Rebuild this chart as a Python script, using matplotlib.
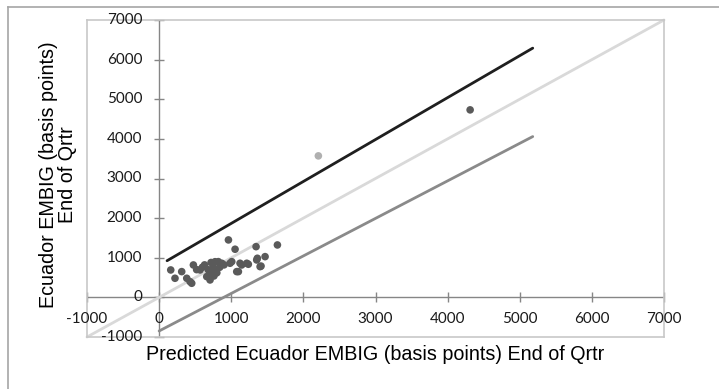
import matplotlib
matplotlib.use("Agg")
import matplotlib.pyplot as plt
from matplotlib.transforms import offset_copy
from matplotlib.lines import Line2D

# ---- data ----
pred_x = [161, 220, 313, 383, 429, 452, 475, 520, 567, 600, 630, 660, 680, 700, 706, 720,
          735, 750, 760, 775, 790, 800, 821, 840, 870, 900, 961, 983, 1007, 1053, 1076,
          1099, 1122, 1145, 1215, 1237, 1344, 1353, 1362, 1400, 1413, 1469, 1640, 4312]
actual_y = [692, 482, 650, 482, 397, 356, 818, 700, 692, 760, 820, 524, 700, 600, 440, 880,
            640, 760, 540, 900, 700, 620, 902, 760, 860, 820, 1450, 861, 902, 1215, 650,
            650, 861, 818, 861, 836, 1280, 944, 987, 776, 790, 1028, 1323, 4732]
outlier_x = [2208]
outlier_y = [3571]

upper_x = [110, 5180]
upper_y = [925, 6290]
lower_x = [0, 5180]
lower_y = [-848, 4058]
diag_x = [-1000, 7000]
diag_y = [-1000, 7000]

x_ticks = [-1000, 0, 1000, 2000, 3000, 4000, 5000, 6000, 7000]
y_ticks = [-1000, 0, 1000, 2000, 3000, 4000, 5000, 6000, 7000]
x_title = "Predicted Ecuador EMBIG (basis points) End of Qrtr"
y_title = "Ecuador EMBIG (basis points)\nEnd of Qrtr"

W, H = 719, 389
fig = plt.figure(figsize=(W / 100, H / 100), dpi=100)

# outer chart frame (top and left visible)
fig.add_artist(Line2D([8 / W, 1], [1 - 7 / H, 1 - 7 / H], color="#a6a6a6", lw=1.2,
                      transform=fig.transFigure))
fig.add_artist(Line2D([8 / W, 8 / W], [0, 1 - 7 / H], color="#a6a6a6", lw=1.2,
                      transform=fig.transFigure))

ax = fig.add_axes([87 / W, (H - 337) / H, 577 / W, 317 / H])
ax.set_xlim(-1000, 7000)
ax.set_ylim(-1000, 7000)
for s in ax.spines.values():
    s.set_color("#c8c8c8")
    s.set_linewidth(1.2)
ax.set_xticks([])
ax.set_yticks([])

axis_col = "#868686"
ax.axhline(0, color=axis_col, lw=1.0, zorder=1)
ax.axvline(0, color=axis_col, lw=1.0, zorder=1)
ax.plot(x_ticks, [0] * len(x_ticks), linestyle="none", marker="|", markersize=7,
        markeredgewidth=1.0, color=axis_col, zorder=1, clip_on=False)
ax.plot([0] * len(y_ticks), y_ticks, linestyle="none", marker="_", markersize=7,
        markeredgewidth=1.0, color=axis_col, zorder=1, clip_on=False)

tick_font = dict(family=["Lato", "DejaVu Sans"], fontsize=11, color="#1a1a1a")
tx = offset_copy(ax.transData, fig=fig, x=0, y=-22, units="dots")
for v in x_ticks:
    ax.text(v, 0, str(v), transform=tx, ha="center", va="center", **tick_font)
ty = offset_copy(ax.transData, fig=fig, x=-17, y=0, units="dots")
for v in y_ticks:
    ax.text(0, v, str(v), transform=ty, ha="right", va="center", **tick_font)

# lines
ax.plot(diag_x, diag_y, color="#d9d9d9", lw=2.0, solid_capstyle="round", zorder=2, clip_on=False)
ax.plot(upper_x, upper_y, color="#1f1f1f", lw=2.0, solid_capstyle="round", zorder=3)
ax.plot(lower_x, lower_y, color="#8a8a8a", lw=2.0, solid_capstyle="round", zorder=3)

# points
ax.scatter(pred_x, actual_y, s=30, color="#5a5a5a", edgecolors="none", zorder=4)
ax.scatter(outlier_x, outlier_y, s=30, color="#b0b0b0", edgecolors="none", zorder=4)

title_font = dict(family=["Liberation Sans", "DejaVu Sans"], fontsize=14.2, color="#000000")
fig.text(375 / W, 1 - 354 / H, x_title, ha="center", va="center", **title_font)
fig.text(58 / W, 1 - 175 / H, y_title, ha="center", va="center", rotation=90,
         linespacing=0.95, **title_font)

fig.savefig("out.png", dpi=100, facecolor="white")
